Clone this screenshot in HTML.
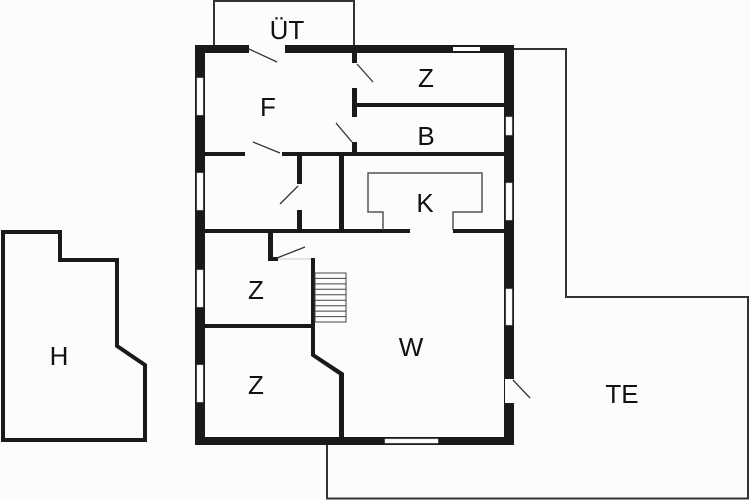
<!DOCTYPE html>
<html><head><meta charset="utf-8"><style>
html,body{margin:0;padding:0;background:#fff;}
svg{display:block}
text{font-family:"Liberation Sans",sans-serif;font-size:26px;fill:#111;text-anchor:middle}
</style></head><body>
<svg width="750" height="500" viewBox="0 0 750 500" xmlns="http://www.w3.org/2000/svg">
<rect width="750" height="500" fill="#fdfcfb"/>
<polyline points="513,49 566,49 566,297 748,297 748,498.5 327,498.5 327,445" fill="none" stroke="#333" stroke-width="2"/>
<polyline points="214,46 214,1 354,1 354,46" fill="none" stroke="#333" stroke-width="2"/>
<polygon points="3,232 60,232 60,260 117,260 117,346 145,365 145,440 3,440" fill="#fdfcfb" stroke="#1a1a1a" stroke-width="4"/>
<g fill="#1a1a1a">
<rect x="195" y="45" width="10" height="400"/>
<rect x="504" y="45" width="10" height="400"/>
<rect x="195" y="45" width="319" height="8"/>
<rect x="195" y="437" width="319" height="8"/>
<rect x="352" y="53" width="5" height="103"/>
<rect x="357" y="103" width="147" height="4"/>
<rect x="205" y="152" width="299" height="4"/>
<rect x="297" y="156" width="5" height="76"/>
<rect x="339" y="156" width="5" height="76"/>
<rect x="205" y="229" width="205" height="4"/>
<rect x="453" y="229" width="51" height="4"/>
<rect x="268" y="233" width="5" height="28"/>
<rect x="268" y="257" width="10" height="4"/>
<rect x="205" y="324" width="108" height="4"/>
<polygon points="311,258 315,258 315,354 344,373 344,437 339,437 339,375 311,356"/>
</g>
<g fill="#fdfcfb">
<rect x="249" y="44" width="36" height="10"/>
<rect x="453" y="47" width="27" height="4"/>
<rect x="351" y="63" width="7" height="25"/>
<rect x="351" y="117" width="7" height="25"/>
<rect x="245" y="151" width="37" height="6"/>
<rect x="296" y="184" width="7" height="26"/>
<rect x="505" y="379" width="10" height="24"/>
</g>
<g fill="#fff" stroke="#ddd" stroke-width="0.5">
<rect x="197" y="78" width="6" height="37"/>
<rect x="197" y="173" width="6" height="37"/>
<rect x="197" y="270" width="6" height="37"/>
<rect x="197" y="365" width="6" height="37"/>
<rect x="506" y="117" width="6" height="18"/>
<rect x="506" y="183" width="6" height="37"/>
<rect x="506" y="289" width="6" height="36"/>
<rect x="385" y="439" width="53" height="4"/>
</g>
<g stroke="#333" stroke-width="1.3">
<line x1="249" y1="49" x2="277" y2="62"/>
<line x1="357" y1="64" x2="373" y2="82"/>
<line x1="336" y1="123" x2="352" y2="142"/>
<line x1="253" y1="142" x2="280" y2="153"/>
<line x1="298" y1="186" x2="280" y2="204"/>
<line x1="277" y1="258" x2="305" y2="247"/>
<line x1="513" y1="380" x2="530" y2="398"/>
</g>
<line x1="278" y1="259" x2="311" y2="259" stroke="#ccc" stroke-width="1"/>
<polyline points="383,230 383,212 368,212 368,173 482,173 482,212 453,212 453,230" fill="none" stroke="#555" stroke-width="1.5"/>
<g stroke="#444" stroke-width="1" fill="none">
<rect x="315" y="273" width="31" height="49"/>
<line x1="315" y1="278.4" x2="346" y2="278.4"/>
<line x1="315" y1="283.9" x2="346" y2="283.9"/>
<line x1="315" y1="289.3" x2="346" y2="289.3"/>
<line x1="315" y1="294.8" x2="346" y2="294.8"/>
<line x1="315" y1="300.2" x2="346" y2="300.2"/>
<line x1="315" y1="305.7" x2="346" y2="305.7"/>
<line x1="315" y1="311.1" x2="346" y2="311.1"/>
<line x1="315" y1="316.6" x2="346" y2="316.6"/>
</g>
<text x="287" y="39">ÜT</text>
<text x="268" y="116">F</text>
<text x="426" y="87">Z</text>
<text x="426" y="145">B</text>
<text x="425" y="212">K</text>
<text x="256" y="299">Z</text>
<text x="256" y="394">Z</text>
<text x="411" y="356">W</text>
<text x="59" y="365">H</text>
<text x="622" y="403">TE</text>
</svg>
</body></html>
